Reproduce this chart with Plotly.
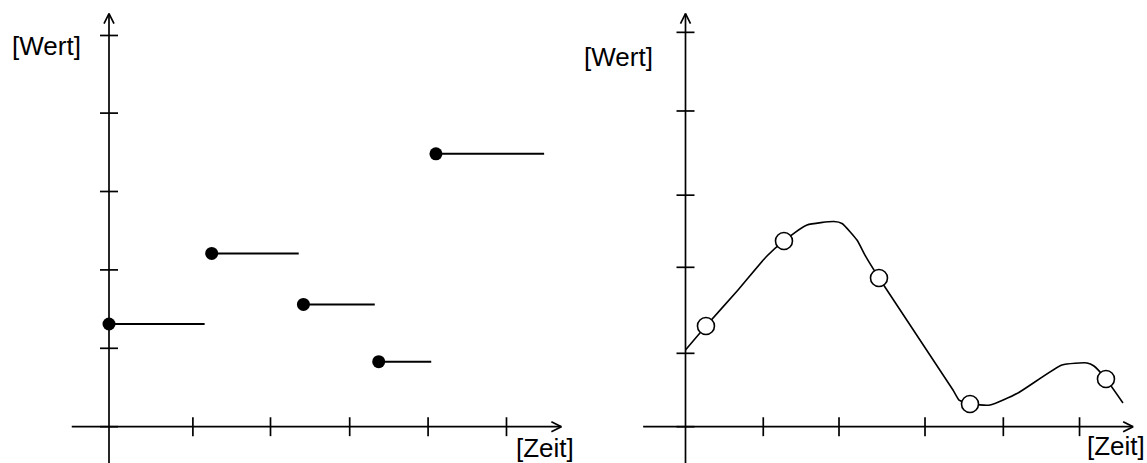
import plotly.graph_objects as go

# ---------------- data (units: one tick spacing) ----------------
# Left panel: sample-and-hold steps
step_start = [0.00, 1.31, 2.48, 3.44, 4.17]
step_end = [1.22, 2.42, 3.39, 4.11, 5.55]
step_value = [1.31, 2.21, 1.56, 0.83, 3.48]

left_xticks = [1.07, 2.06, 3.07, 4.07, 5.07]
left_yticks = [0, 1.00, 2.00, 3.00, 4.00, 4.99]

# Right panel: continuous curve with sampled points
curve_x = [0.00, 0.261, 0.670, 1.027, 1.256, 1.550, 1.894, 1.996, 2.187, 2.302,
           2.468, 3.412, 3.489, 3.629, 3.884, 4.241, 4.802, 5.121, 5.210, 5.363, 5.580]
curve_y = [0.978, 1.284, 1.744, 2.165, 2.369, 2.573, 2.617, 2.592, 2.381, 2.165,
           1.897, 0.468, 0.340, 0.290, 0.277, 0.430, 0.787, 0.813, 0.774, 0.608, 0.302]
sample_x = [0.261, 1.256, 2.468, 3.629, 5.363]
sample_y = [1.284, 2.369, 1.897, 0.290, 0.608]

right_xticks = [0.992, 1.958, 3.055, 4.054, 5.026]
right_yticks = [0, 0.936, 2.033, 2.953, 4.027, 5.03]

y_label = "[Wert]"
x_label = "[Zeit]"

# ---------------- geometry ----------------
W, H = 1147, 463
UNIT = 78.4
LEFT_ORIGIN_PX = 109.0
RIGHT_ORIGIN_PX = 685.5
X_AXIS_PX = 426.7
TICK = 9.0 / UNIT
ARR_L = 10.0 / UNIT
ARR_W = 5.0 / UNIT

ymin = -(H - X_AXIS_PX) / UNIT
ymax = X_AXIS_PX / UNIT

fig = go.Figure()

line_style = dict(color="black", width=1.7)


def add_axes(xr, yr, x_lo, x_hi, y_lo, y_hi, xticks, yticks):
    shapes = []
    shapes.append(dict(type="line", xref=xr, yref=yr, x0=x_lo, y0=0, x1=x_hi, y1=0, line=line_style))
    shapes.append(dict(type="line", xref=xr, yref=yr, x0=0, y0=y_lo, x1=0, y1=y_hi, line=line_style))
    for s in (1, -1):
        shapes.append(dict(type="line", xref=xr, yref=yr, x0=x_hi, y0=0,
                           x1=x_hi - ARR_L, y1=s * ARR_W, line=line_style))
        shapes.append(dict(type="line", xref=xr, yref=yr, x0=0, y0=y_hi,
                           x1=s * ARR_W, y1=y_hi - ARR_L, line=line_style))
    for t in xticks:
        shapes.append(dict(type="line", xref=xr, yref=yr, x0=t, y0=-TICK * 1.05,
                           x1=t, y1=TICK * 1.05, line=line_style))
    for t in yticks:
        shapes.append(dict(type="line", xref=xr, yref=yr, x0=-TICK, y0=t,
                           x1=TICK, y1=t, line=line_style))
    return shapes


shapes = []
shapes += add_axes("x", "y", -0.475, 5.77, ymin - 0.05, 5.27, left_xticks, left_yticks)
shapes += add_axes("x2", "y2", -0.54, 5.71, ymin - 0.05, 5.27, right_xticks, right_yticks)

# Left: horizontal hold lines
for xs, xe, v in zip(step_start, step_end, step_value):
    fig.add_trace(go.Scatter(x=[xs, xe], y=[v, v], mode="lines",
                             line=dict(color="black", width=2), xaxis="x", yaxis="y",
                             hoverinfo="skip"))
fig.add_trace(go.Scatter(x=step_start, y=step_value, mode="markers",
                         marker=dict(color="black", size=13), xaxis="x", yaxis="y"))

# Right: curve and samples
fig.add_trace(go.Scatter(x=curve_x, y=curve_y, mode="lines",
                         line=dict(color="black", width=1.6, shape="spline", smoothing=0.5),
                         xaxis="x2", yaxis="y2", hoverinfo="skip"))
fig.add_trace(go.Scatter(x=sample_x, y=sample_y, mode="markers",
                         marker=dict(color="white", size=17, line=dict(color="black", width=1.6)),
                         xaxis="x2", yaxis="y2"))

font = dict(family="Liberation Sans, Arial, sans-serif", size=26, color="black")
annotations = [
    dict(text=y_label, xref="x", yref="y", x=(10 - LEFT_ORIGIN_PX) / UNIT,
         y=(X_AXIS_PX - 46) / UNIT, xanchor="left", yanchor="middle", showarrow=False, font=font),
    dict(text=x_label, xref="x", yref="y", x=(514 - LEFT_ORIGIN_PX) / UNIT,
         y=(X_AXIS_PX - 447.5) / UNIT, xanchor="left", yanchor="middle", showarrow=False, font=font),
    dict(text=y_label, xref="x2", yref="y2", x=(582 - RIGHT_ORIGIN_PX) / UNIT,
         y=(X_AXIS_PX - 56.7) / UNIT, xanchor="left", yanchor="middle", showarrow=False, font=font),
    dict(text=x_label, xref="x2", yref="y2", x=(1085 - RIGHT_ORIGIN_PX) / UNIT,
         y=(X_AXIS_PX - 446) / UNIT, xanchor="left", yanchor="middle", showarrow=False, font=font),
]

hidden = dict(visible=False, showgrid=False, zeroline=False, fixedrange=True)
fig.update_layout(
    width=W, height=H,
    margin=dict(l=0, r=0, t=0, b=0),
    paper_bgcolor="white", plot_bgcolor="rgba(0,0,0,0)",
    showlegend=False,
    xaxis=dict(domain=[0, 1], range=[-LEFT_ORIGIN_PX / UNIT, (W - LEFT_ORIGIN_PX) / UNIT], **hidden),
    yaxis=dict(domain=[0, 1], range=[ymin, ymax], **hidden),
    xaxis2=dict(domain=[0, 1], range=[-RIGHT_ORIGIN_PX / UNIT, (W - RIGHT_ORIGIN_PX) / UNIT],
                anchor="y2", **hidden),
    yaxis2=dict(domain=[0, 1], range=[ymin, ymax], anchor="x2", **hidden),
    shapes=shapes,
    annotations=annotations,
)

fig.write_html("out.html", config={"displayModeBar": False},
               post_script="document.body.style.margin='0';document.body.style.overflow='hidden';")
